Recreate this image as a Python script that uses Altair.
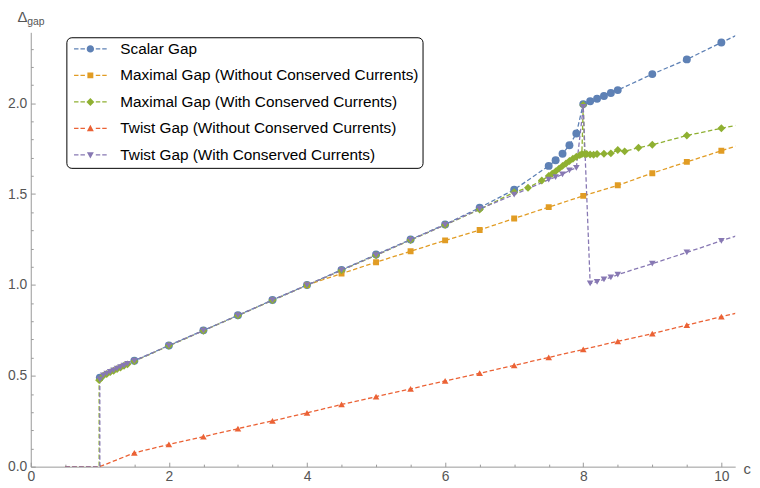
import altair as alt
import pandas as pd

SERIES = [
    "Scalar Gap",
    "Maximal Gap (Without Conserved Currents)",
    "Maximal Gap (With Conserved Currents)",
    "Twist Gap (Without Conserved Currents)",
    "Twist Gap (With Conserved Currents)",
]
COLORS = ["#5E81B5", "#E19C24", "#8FB032", "#EB6235", "#8778B3"]
SHAPES = ["circle", "square", "diamond", "triangle-up", "triangle-down"]
SIZES = [64, 36, 64, 45, 45]

scalar_c = [1.0, 1.5, 2.0, 2.5, 3.0, 3.5, 4.0, 4.5, 5.0, 5.5, 6.0, 6.5,
            7.0, 7.5, 7.6, 7.7, 7.8, 7.9, 8.0, 8.1, 8.2, 8.3, 8.4, 8.5, 9.0, 9.5, 10.0, 10.5]
scalar_v = [0.49, 0.583, 0.667, 0.75, 0.833, 0.917, 1.0, 1.083,
            1.167, 1.25, 1.333, 1.425, 1.524, 1.655, 1.686, 1.722, 1.769, 1.833, 1.995, 2.011, 2.024,
            2.040, 2.056, 2.072, 2.160, 2.241, 2.334, 2.425]

maxwo_c = [4.0, 4.5, 5.0, 5.5, 6.0, 6.5, 7.0, 7.5, 8.0, 8.5, 9.0, 9.5, 10.0, 10.5]
maxwo_v = [1.0, 1.062, 1.125, 1.185, 1.245, 1.302, 1.366, 1.428, 1.490, 1.548, 1.615, 1.677,
           1.738, 1.80]

maxw_c = [0.5, 0.99, 0.99, 1.05, 1.1, 1.15, 1.2, 1.25, 1.3, 1.35, 1.4, 1.5, 2.0, 2.5, 3.0, 3.5, 4.0,
          4.5, 5.0, 5.5, 6.0, 6.5, 7.0, 7.2, 7.4, 7.5, 7.55, 7.6, 7.65, 7.7, 7.75, 7.8, 7.85, 7.9,
          7.95, 7.98, 8.0, 8.02, 8.05, 8.1, 8.15, 8.2, 8.3, 8.4, 8.5, 8.6, 8.8, 9.0, 9.5, 10.0, 10.5]
maxw_v = [0.0, 0.0, 0.476, 0.50, 0.51, 0.52, 0.528, 0.537, 0.546, 0.555, 0.563, 0.58, 0.665, 0.748,
          0.831, 0.915, 0.998, 1.08, 1.163, 1.247, 1.33, 1.415, 1.51, 1.535, 1.575, 1.60, 1.612,
          1.625, 1.64, 1.655, 1.668, 1.682, 1.694, 1.705, 1.714, 1.72, 1.99, 1.72, 1.72, 1.718,
          1.716, 1.72, 1.722, 1.724, 1.742, 1.735, 1.755, 1.771, 1.822, 1.862, 1.90]

twwo_c = [0.5, 1.0, 1.5, 2.0, 2.5, 3.0, 3.5, 4.0, 4.5, 5.0, 5.5, 6.0, 6.5, 7.0, 7.5, 8.0, 8.5, 9.0,
          9.5, 10.0, 10.5]
twwo_v = [0.0, 0.0, 0.076, 0.122, 0.165, 0.209, 0.252, 0.296, 0.342, 0.385, 0.428, 0.472, 0.514,
          0.557, 0.601, 0.645, 0.69, 0.732, 0.779, 0.825, 0.870]

tww_c = [0.5, 1.0, 1.0, 1.05, 1.1, 1.15, 1.2, 1.25, 1.3, 1.35, 1.4, 1.5, 2.0, 2.5, 3.0, 3.5, 4.0,
         4.5, 5.0, 5.5, 6.0, 6.5, 7.0, 7.5, 7.6, 7.7, 7.8, 7.9, 8.0, 8.1, 8.2, 8.3, 8.4, 8.5, 9.0,
         9.5, 10.0, 10.5]
tww_v = [0.0, 0.0, 0.48, 0.502, 0.512, 0.521, 0.53, 0.539, 0.548, 0.556, 0.565, 0.582, 0.666,
         0.749, 0.832, 0.916, 0.999, 1.081, 1.164, 1.248, 1.331, 1.418, 1.497, 1.579, 1.593, 1.608,
         1.63, 1.644, 1.98, 1.008, 1.017, 1.03, 1.041, 1.057, 1.117, 1.179, 1.243, 1.305]

X_MAJOR = [0, 2, 4, 6, 8, 10]
X_MINOR = [0.5, 1, 1.5, 2.5, 3, 3.5, 4.5, 5, 5.5, 6.5, 7, 7.5, 8.5, 9, 9.5]
Y_MAJOR = [0, 0.5, 1.0, 1.5, 2.0]
Y_MINOR = [0.1, 0.2, 0.3, 0.4, 0.6, 0.7, 0.8, 0.9, 1.1, 1.2, 1.3, 1.4, 1.6, 1.7, 1.8, 1.9,
           2.1, 2.2, 2.3]

rows = []
for k, (name, cs, vs) in enumerate(zip(SERIES, [scalar_c, maxwo_c, maxw_c, twwo_c, tww_c],
                                       [scalar_v, maxwo_v, maxw_v, twwo_v, tww_v])):
    for i, (c, v) in enumerate(zip(cs, vs)):
        rows.append({"series": name, "c": c, "v": v, "idx": i, "k": k,
                     "col": COLORS[k], "shp": SHAPES[k], "sz": SIZES[k]})
df = pd.DataFrame(rows)

# legend symbols: dashed line with marker (unit coords, scaled by sqrt(size)/2)
DASH = ("M-1,-0.17 L0.125,-0.17 L0.125,0.17 L-1,0.17 Z "
        "M0.625,-0.17 L1.75,-0.17 L1.75,0.17 L0.625,0.17 Z "
        "M4.5,-0.17 L5.625,-0.17 L5.625,0.17 L4.5,0.17 Z "
        "M6.125,-0.17 L7.25,-0.17 L7.25,0.17 L6.125,0.17 Z ")
MARK = [
    "M2.2,0 A0.925,0.925 0 1,0 4.05,0 A0.925,0.925 0 1,0 2.2,0 Z",
    "M2.375,-0.75 L3.875,-0.75 L3.875,0.75 L2.375,0.75 Z",
    "M3.125,-1 L4.125,0 L3.125,1 L2.125,0 Z",
    "M3.125,-0.9 L4.0,0.7 L2.25,0.7 Z",
    "M3.125,0.9 L4.0,-0.7 L2.25,-0.7 Z",
]
expr = "'" + DASH + MARK[-1] + "'"
for name, m in zip(SERIES[-2::-1], MARK[-2::-1]):
    expr = "datum.value === '" + name + "' ? '" + DASH + m + "' : " + expr

FONT = "Liberation Sans"
AX = "#999999"
LAB = "#555555"

xs = alt.Scale(domain=[0, 10.2], nice=False, zero=False)
ys = alt.Scale(domain=[0, 2.39], nice=False, zero=False)
cscale = alt.Scale(domain=SERIES, range=COLORS)

base = alt.Chart(df)

lines = base.mark_line(strokeWidth=1.3, strokeDash=[4.5, 2.5], clip=True).encode(
    x=alt.X("c:Q", scale=xs, axis=alt.Axis(
        orient="bottom", values=X_MAJOR, ticks=False, domainColor=AX, grid=False,
        labelPadding=3, labelFlush=False, labelFontSize=14, labelColor=LAB, labelFont=FONT,
        title="c", titleX=720, titleY=2, titleBaseline="middle", titleAlign="left",
        titleFontSize=15, titleFontWeight="normal", titleColor=LAB, titleFont=FONT)),
    y=alt.Y("v:Q", scale=ys, axis=alt.Axis(
        orient="left", values=Y_MAJOR, format=".1f", ticks=False, domainColor=AX, grid=False,
        labelPadding=4, labelFlush=False, labelFontSize=14, labelColor=LAB, labelFont=FONT,
        title="Δ", titleAngle=0, titleX=-14, titleY=-11, titleAlign="left",
        titleBaseline="alphabetic", titleFontSize=15, titleFontWeight="normal",
        titleColor=LAB, titleFont=FONT)),
    stroke=alt.Stroke("col:N", scale=None),
    detail="k:N",
    order=alt.Order("idx:Q"),
)

points = base.transform_filter("datum.v > 0").mark_point(
    filled=True, opacity=1, strokeWidth=0, clip=True).encode(
    x=alt.X("c:Q", scale=xs, axis=alt.Axis(
        orient="bottom", values=X_MAJOR, labels=False, domain=False, ticks=True,
        tickSize=4.5, offset=-4.5, tickColor=AX, grid=False, title=None)),
    y=alt.Y("v:Q", scale=ys, axis=alt.Axis(
        orient="left", values=Y_MAJOR, labels=False, domain=False, ticks=True,
        tickSize=4.5, offset=-4.5, tickColor=AX, grid=False,
        title="gap", titleAngle=0, titleX=-8.5, titleY=-8, titleAlign="left",
        titleBaseline="alphabetic", titleFontSize=10.5, titleFontWeight="normal",
        titleColor=LAB, titleFont=FONT)),
    color=alt.Color("series:N", scale=cscale, legend=alt.Legend(
        title=None, orient="none", legendX=36, legendY=5, padding=4,
        strokeColor="black", fillColor="white", cornerRadius=5,
        labelFont=FONT, labelFontSize=15.5, labelColor="black", labelLimit=0,
        labelOffset=35, rowPadding=9.8, symbolSize=64, symbolStrokeWidth=0,
        symbolOpacity=1, symbolType={"expr": expr})),
    shape=alt.Shape("shp:N", scale=None),
    size=alt.Size("sz:Q", scale=None),
)

minor = base.mark_point(opacity=0).encode(
    x=alt.X("c:Q", scale=xs, axis=alt.Axis(
        orient="bottom", values=X_MINOR, labels=False, domain=False, ticks=True,
        tickSize=2.5, offset=-2.5, tickColor=AX, grid=False, title=None)),
    y=alt.Y("v:Q", scale=ys, axis=alt.Axis(
        orient="left", values=Y_MINOR, labels=False, domain=False, ticks=True,
        tickSize=2.5, offset=-2.5, tickColor=AX, grid=False, title=None)),
)

chart = alt.layer(lines, points, minor).resolve_axis(
    x="independent", y="independent"
).properties(
    width=712, height=439,
    padding={"left": 23, "top": 22, "right": 17, "bottom": 19},
    autosize=alt.AutoSizeParams(type="none"),
    background="white",
).configure_view(stroke=None)

chart.save("out.html", embed_options={"renderer": "svg", "actions": False})
